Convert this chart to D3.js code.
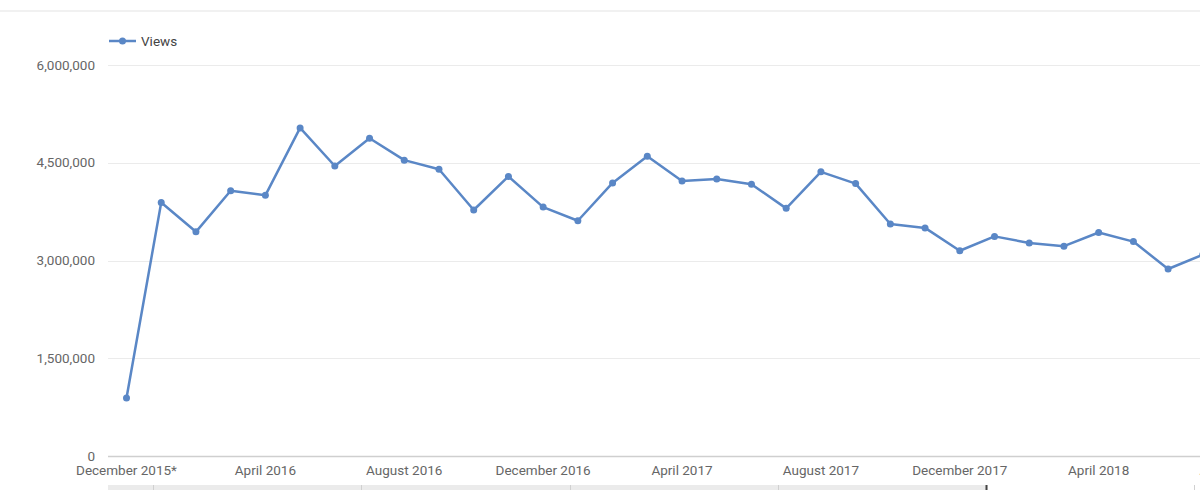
<!DOCTYPE html>
<html><head><meta charset="utf-8">
<script src="https://cdn.jsdelivr.net/npm/d3@7"></script>
<style>
body{margin:0;background:#fff;overflow:hidden;}
svg{display:block;font-family:Roboto, Arial, sans-serif;}
</style>
</head><body>
<svg id="c" width="1200" height="490"></svg>
<script>
const seriesName = "Views";
const months = ["Dec 2015","Jan 2016","Feb 2016","Mar 2016","Apr 2016","May 2016","Jun 2016","Jul 2016","Aug 2016","Sep 2016","Oct 2016","Nov 2016",
  "Dec 2016","Jan 2017","Feb 2017","Mar 2017","Apr 2017","May 2017","Jun 2017","Jul 2017","Aug 2017","Sep 2017","Oct 2017","Nov 2017",
  "Dec 2017","Jan 2018","Feb 2018","Mar 2018","Apr 2018","May 2018","Jun 2018","Jul 2018"];
const views = [890000,3890000,3440000,4070000,4000000,5035000,4450000,4875000,4540000,4400000,3775000,4290000,
  3820000,3610000,4190000,4600000,4220000,4250000,4170000,3800000,4360000,4180000,3560000,3500000,
  3150000,3370000,3270000,3220000,3430000,3290000,2870000,3090000];
const xTickIndex = [0,4,8,12,16,20,24,28,32];
const xTickLabels = ["December 2015*","April 2016","August 2016","December 2016","April 2017","August 2017","December 2017","April 2018","August 2018"];
const yTicks = [0,1500000,3000000,4500000,6000000];

const svg = d3.select("#c");
const W = 1200;
const plotLeft = 108;
const x = d3.scaleLinear().domain([0,1]).range([126.5,161.22]);
const y = d3.scaleLinear().domain([0,6000000]).range([456,65]);
const color = "#5a87c6";
const fmt = d3.format(",");
const fs = 13.5;

// top separator line
svg.append("line").attr("x1",0).attr("x2",W).attr("y1",11).attr("y2",11)
  .attr("stroke","#e3e3e3").attr("stroke-width",1);

// gridlines
svg.append("g").selectAll("line").data(yTicks).join("line")
  .attr("x1",plotLeft).attr("x2",W)
  .attr("y1",d=>Math.round(y(d))+0.5).attr("y2",d=>Math.round(y(d))+0.5)
  .attr("stroke",d=>d===0?"#cfcfcf":"#ebebeb")
  .attr("stroke-width",d=>d===0?1.5:1);

// y labels
svg.append("g").selectAll("text").data(yTicks).join("text")
  .attr("x",95).attr("y",d=>y(d)+4.7)
  .attr("text-anchor","end").attr("font-size",fs).attr("fill","#666")
  .text(d=>fmt(d));

// x labels
svg.append("g").selectAll("text").data(xTickIndex).join("text")
  .attr("x",d=>x(d)).attr("y",475)
  .attr("text-anchor","middle").attr("font-size",fs).attr("fill","#666")
  .text((d,i)=>xTickLabels[i]);

// line
const line = d3.line().x((d,i)=>x(i)).y(d=>y(d));
svg.append("path").datum(views).attr("d",line)
  .attr("fill","none").attr("stroke",color).attr("stroke-width",2.5)
  .attr("stroke-linejoin","round");
svg.append("g").selectAll("circle").data(views).join("circle")
  .attr("cx",(d,i)=>x(i)).attr("cy",d=>y(d)).attr("r",3.5).attr("fill",color);

// legend
const lg = svg.append("g");
lg.append("line").attr("x1",109).attr("x2",136).attr("y1",41).attr("y2",41)
  .attr("stroke",color).attr("stroke-width",2.5);
lg.append("circle").attr("cx",122.5).attr("cy",41).attr("r",3.5).attr("fill",color);
lg.append("text").attr("x",141).attr("y",45.7).attr("font-size",fs).attr("fill","#444").text(seriesName);

// range selector strip at the bottom
const strip = svg.append("g");
strip.append("rect").attr("x",plotLeft).attr("y",485).attr("width",x(24.8)-plotLeft).attr("height",5).attr("fill","#ebebeb");
const stripMarks = [0.76,6.76,12.76,18.76,24.76,30.76];
strip.selectAll("line").data(stripMarks).join("line")
  .attr("x1",d=>Math.round(x(d))+0.5).attr("x2",d=>Math.round(x(d))+0.5)
  .attr("y1",485).attr("y2",490)
  .attr("stroke",(d,i)=>i===4?"#444":"#d0d0d0").attr("stroke-width",(d,i)=>i===4?2:1);
</script>
</body></html>
